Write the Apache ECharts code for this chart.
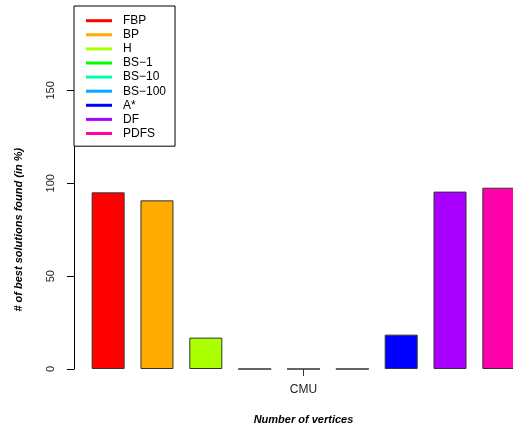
<!DOCTYPE html>
<html><head><meta charset="utf-8">
<script src="https://cdn.jsdelivr.net/npm/echarts@6/dist/echarts.min.js"></script>
<style>html,body{margin:0;padding:0;background:#fff}#c{width:513px;height:430px}</style>
</head><body><div id="c"></div>
<script>
var categories = ['CMU'];
var seriesNames = ['FBP', 'BP', 'H', 'BS\u22121', 'BS\u221210', 'BS\u2212100', 'A*', 'DF', 'PDFS'];
var seriesValues = [95.1, 90.8, 16.9, 0, 0, 0, 18.5, 95.5, 97.6];
var seriesColors = ['#FF0000', '#FFAA00', '#AAFF00', '#00FF00', '#00FFAA', '#00AAFF', '#0000FF', '#AA00FF', '#FF00AA'];
var yTicks = [0, 50, 100, 150];

var FONT = 'Liberation Sans, Arial, Helvetica, sans-serif';
var chart = echarts.init(document.getElementById('c'), null, {renderer: 'canvas'});
var series = seriesNames.map(function (n, i) {
  return {
    name: n, type: 'bar', data: [seriesValues[i]],
    barWidth: 33, barGap: '48%',
    itemStyle: {color: seriesColors[i], borderColor: '#333', borderWidth: 1},
    emphasis: {disabled: true}
  };
});
chart.setOption({
  animation: false,
  color: seriesColors,
  grid: {left: 74, top: 90.4, width: 459, height: 278.6, containLabel: false, outerBoundsMode: 'none'},
  xAxis: {
    type: 'category', data: categories,
    axisLine: {show: false},
    axisTick: {show: true, alignWithLabel: true, length: 7, lineStyle: {color: '#333'}},
    axisLabel: {fontFamily: FONT, fontSize: 12, color: '#222', margin: 15},
    name: 'Number of vertices', nameLocation: 'middle', nameGap: 45,
    nameTextStyle: {fontFamily: FONT, fontSize: 11, fontWeight: 'bold', fontStyle: 'italic', color: '#000'}
  },
  yAxis: {
    type: 'value', min: yTicks[0], max: yTicks[yTicks.length - 1], interval: 50,
    axisLine: {show: true, lineStyle: {color: '#000'}},
    axisTick: {show: true, length: 7, lineStyle: {color: '#000'}},
    splitLine: {show: false},
    axisLabel: {fontFamily: FONT, fontSize: 11, color: '#222', rotate: 90, margin: 18},
    name: '# of best solutions found (in %)', nameLocation: 'middle', nameGap: 50,
    nameTextStyle: {fontFamily: FONT, fontSize: 11, fontWeight: 'bold', fontStyle: 'italic', color: '#000'}
  },
  legend: {
    orient: 'vertical', left: 74, top: 6,
    padding: [7.7, 9, 5.7, 12],
    itemWidth: 26, itemHeight: 3, itemGap: 0.1,
    icon: 'rect',
    itemStyle: {borderWidth: 0},
    borderColor: '#000', borderWidth: 1, backgroundColor: '#fff',
    textStyle: {fontFamily: FONT, fontSize: 12, color: '#000', lineHeight: 14, padding: [0, 0, 0, 6]},
    data: seriesNames
  },
  series: series
});
</script></body></html>
